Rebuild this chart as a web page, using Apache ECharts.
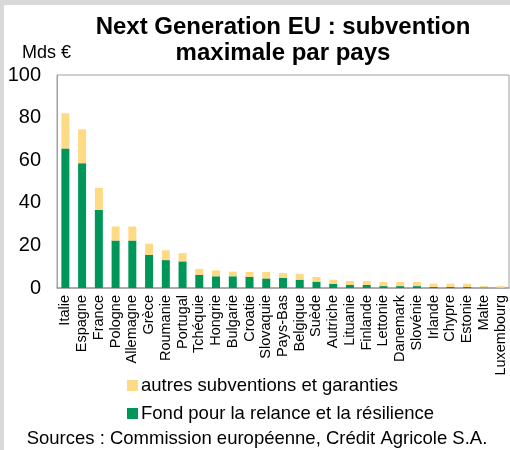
<!DOCTYPE html>
<html><head><meta charset="utf-8">
<script src="https://cdn.jsdelivr.net/npm/echarts@6/dist/echarts.min.js"></script>
<style>html,body{margin:0;padding:0;background:#fff}#c{width:510px;height:450px}</style>
</head><body><div id="c"></div>
<script>
const categories = ["Italie","Espagne","France","Pologne","Allemagne","Grèce","Roumanie","Portugal","Tchéquie","Hongrie","Bulgarie","Croatie","Slovaquie","Pays-Bas","Belgique","Suède","Autriche","Lituanie","Finlande","Lettonie","Danemark","Slovénie","Irlande","Chypre","Estonie","Malte","Luxembourg"];
const fondRelance = [65.5, 58.6, 36.7, 22.3, 22.3, 15.6, 13.1, 12.5, 6.1, 5.5, 5.5, 5.2, 4.5, 4.7, 3.9, 3.0, 2.0, 1.4, 1.4, 0.9, 0.9, 0.9, 0.5, 0.5, 0.5, 0.3, 0.1];
const autres = [16.5, 15.9, 10.3, 6.6, 6.6, 5.2, 4.6, 3.9, 2.8, 2.8, 2.2, 2.3, 3.0, 2.3, 2.7, 2.2, 1.9, 1.9, 1.9, 1.9, 1.9, 1.9, 1.5, 1.5, 1.5, 0.6, 0.8];
const yTicks = [0, 20, 40, 60, 80, 100];

const font = "Liberation Sans, Arial, sans-serif";
const chart = echarts.init(document.getElementById('c'));
chart.setOption({
  animation: false,
  backgroundColor: '#fff',
  grid: { left: 57, right: 1, top: 75, bottom: 162, show: true, borderColor: '#a0a0a0', borderWidth: 1 },
  xAxis: {
    type: 'category', data: categories,
    axisLine: { lineStyle: { color: '#a0a0a0', width: 1.5 } },
    axisTick: { show: false },
    axisLabel: { rotate: 90, interval: 0, fontSize: 14.5, color: '#000', fontFamily: font, margin: 7 }
  },
  yAxis: {
    type: 'value', min: yTicks[0], max: yTicks[yTicks.length-1], interval: 20,
    axisLine: { show: true, lineStyle: { color: '#a0a0a0' } },
    axisTick: { show: false }, splitLine: { show: false },
    axisLabel: { fontSize: 20, color: '#000', fontFamily: font, margin: 16 }
  },
  legend: {
    orient: 'vertical', left: 122, top: 371, itemGap: 9, itemWidth: 11, itemHeight: 11,
    icon: 'rect',
    data: ['autres subventions et garanties', 'Fond pour la relance et la résilience'],
    textStyle: { fontSize: 18.5, color: '#000', fontFamily: font, padding: [0,0,0,-2] }
  },
  series: [
    { name: 'Fond pour la relance et la résilience', type: 'bar', stack: 't', data: fondRelance, barWidth: 8, itemStyle: { color: '#00965a' } },
    { name: 'autres subventions et garanties', type: 'bar', stack: 't', data: autres, barWidth: 8, itemStyle: { color: '#ffda85' } }
  ],
  graphic: [
    { type: 'rect', shape: { x: 0, y: 0, width: 510, height: 5 }, style: { fill: '#d9d9d9' }, silent: true },
    { type: 'rect', shape: { x: 0, y: 0, width: 4, height: 450 }, style: { fill: '#d9d9d9' }, silent: true },
    { type: 'text', x: 283, y: 27, style: { text: 'Next Generation EU : subvention', fontSize: 24, fontWeight: 'bold', fontFamily: font, fill: '#000', align: 'center', verticalAlign: 'middle' } },
    { type: 'text', x: 283, y: 53, style: { text: 'maximale par pays', fontSize: 24, fontWeight: 'bold', fontFamily: font, fill: '#000', align: 'center', verticalAlign: 'middle' } },
    { type: 'text', x: 22, y: 53, style: { text: 'Mds €', fontSize: 18, fontFamily: font, fill: '#000', verticalAlign: 'middle' } },
    { type: 'text', x: 257, y: 439, style: { text: 'Sources : Commission européenne, Crédit Agricole S.A.', fontSize: 18.5, fontFamily: font, fill: '#000', align: 'center', verticalAlign: 'middle' } }
  ]
});
</script></body></html>
